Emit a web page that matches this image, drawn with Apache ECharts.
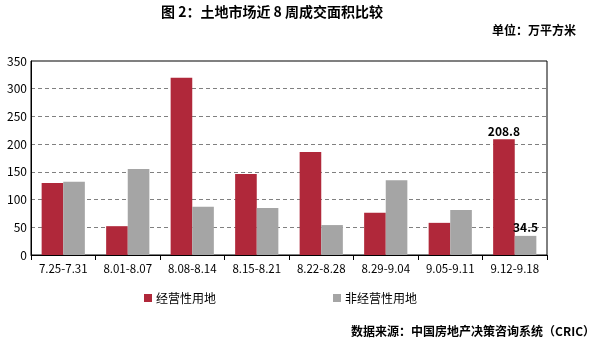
<!DOCTYPE html>
<html>
<head>
<meta charset="utf-8">
<script src="https://cdn.jsdelivr.net/npm/echarts@6/dist/echarts.min.js"></script>
<style>
  html, body { margin: 0; padding: 0; background: #fff; }
  #chart { width: 599px; height: 347px; }
</style>
</head>
<body>
<div id="chart"></div>
<script>
const weeks = ['7.25-7.31', '8.01-8.07', '8.08-8.14', '8.15-8.21', '8.22-8.28', '8.29-9.04', '9.05-9.11', '9.12-9.18'];
const commercial = [130, 52, 320, 146, 186, 76, 58, 208.8];
const nonCommercial = [132, 155, 87, 85, 54, 135, 81, 34.5];
const seriesNames = ['经营性用地', '非经营性用地'];
const yTicks = [0, 50, 100, 150, 200, 250, 300, 350];

const font = '"Noto Sans CJK SC", "Noto Sans", sans-serif';
const chart = echarts.init(document.getElementById('chart'));

const lastIdx = weeks.length - 1;
const labelFor = (i) => ({
  show: i === lastIdx,
  position: 'top',
  distance: 2,
  fontFamily: font,
  fontWeight: 'bold',
  fontSize: 12,
  color: '#000'
});

chart.setOption({
  animation: false,
  textStyle: { fontFamily: font },
  title: [
    { text: '图 2：土地市场近 8 周成交面积比较', left: 161, top: 5, padding: 0,
      textStyle: { fontSize: 14, fontWeight: 'bold', color: '#000', fontFamily: font } },
    { text: '单位：万平方米', right: 23, top: 24, padding: 0,
      textStyle: { fontSize: 12, fontWeight: 'bold', color: '#000', fontFamily: font } },
    { text: '数据来源：中国房地产决策咨询系统（CRIC）', right: 4, top: 325, padding: 0,
      textStyle: { fontSize: 12, fontWeight: 'bold', color: '#000', fontFamily: font } }
  ],
  legend: {
    data: seriesNames,
    top: 287, left: 139,
    itemGap: 117,
    itemWidth: 8, itemHeight: 8,
    icon: 'rect',
    textStyle: { fontSize: 12, color: '#000', fontFamily: font, padding: [0, 0, 0, -1] }
  },
  grid: { left: 31, right: 52, top: 61, bottom: 92, show: true, borderColor: '#000', borderWidth: 1 },
  xAxis: {
    type: 'category',
    data: weeks,
    axisLine: { lineStyle: { color: '#000' } },
    axisTick: { show: true, length: 5, lineStyle: { color: '#000' } },
    axisLabel: { fontSize: 11.5, color: '#000', margin: 8, fontFamily: font }
  },
  yAxis: {
    type: 'value',
    min: yTicks[0], max: yTicks[yTicks.length - 1], interval: 50,
    axisLine: { show: true, lineStyle: { color: '#000' } },
    axisTick: { show: false },
    axisLabel: { fontSize: 12, color: '#000', margin: 4, fontFamily: font },
    splitLine: { lineStyle: { color: '#808080', type: [4, 3] } }
  },
  series: [
    {
      name: seriesNames[0], type: 'bar',
      data: commercial.map((v, i) => ({ value: v, label: labelFor(i) })),
      itemStyle: { color: '#B0283A' },
      barGap: '0%', barCategoryGap: '33%'
    },
    {
      name: seriesNames[1], type: 'bar',
      data: nonCommercial.map((v, i) => ({ value: v, label: labelFor(i) })),
      itemStyle: { color: '#A5A5A5' },
      barGap: '0%', barCategoryGap: '33%'
    }
  ]
});
</script>
</body>
</html>
